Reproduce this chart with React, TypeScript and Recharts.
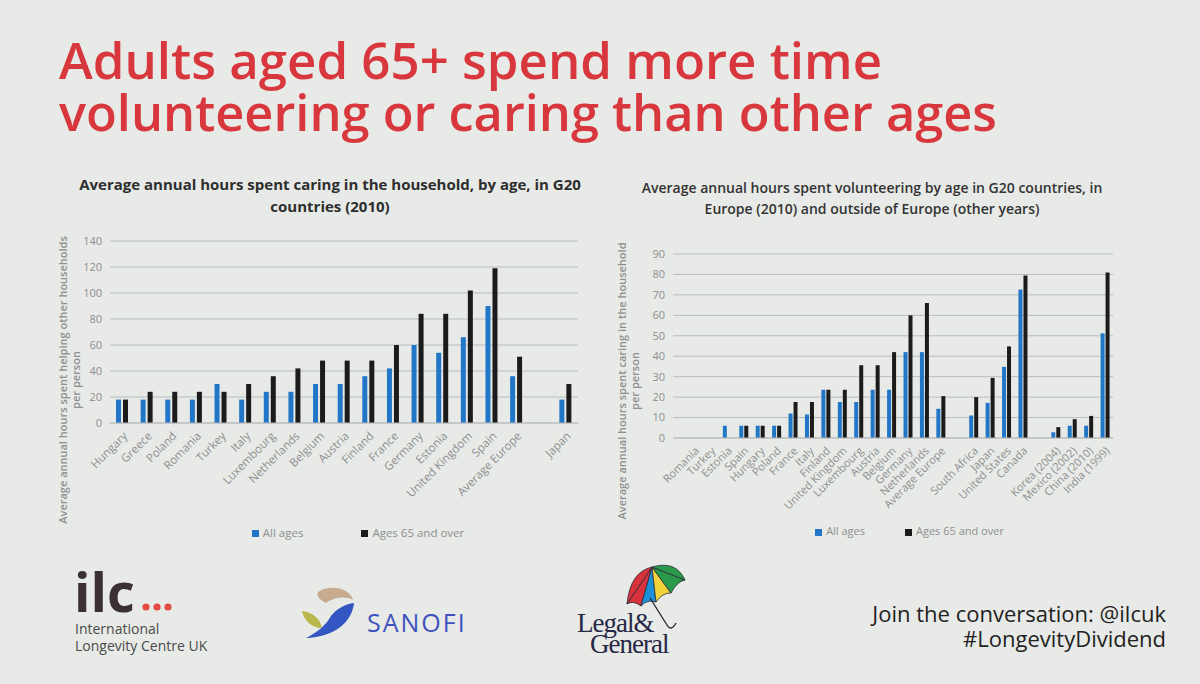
import React from "react";
import { Bar, BarChart, CartesianGrid, Legend, XAxis, YAxis } from "recharts";

// left panel: caring in the household (2010)
const careCountries = [
  "Hungary", "Greece", "Poland", "Romania", "Turkey", "Italy", "Luxembourg",
  "Netherlands", "Belgium", "Austria", "Finland", "France", "Germany",
  "Estonia", "United Kingdom", "Spain", "Average Europe", "", "Japan",
];
const careAllAges = [18, 18, 18, 18, 30, 18, 24, 24, 30, 30, 36, 42, 60, 54, 66, 90, 36, null, 18];
const careOver65 = [18, 24, 24, 24, 24, 30, 36, 42, 48, 48, 48, 60, 84, 84, 102, 119, 51, null, 30];
const careTicks = [0, 20, 40, 60, 80, 100, 120, 140];

// right panel: volunteering
const volCountries = [
  "Romania", "Turkey", "Estonia", "Spain", "Hungary", "Poland", "France",
  "Italy", "Finland", "United Kingdom", "Luxembourg", "Austria", "Belgium",
  "Germany", "Netherlands", "Average Europe", " ", "South Africa", "Japan",
  "United States", "Canada", "  ", "Korea (2004)", "Mexico (2002)",
  "China (2010)", "India (1999)",
];
const volAllAges = [null, null, 6, 6, 6, 6, 12, 11.5, 23.6, 17.6, 17.6, 23.6, 23.6, 42, 42, 14.3, null, 11, 17.2, 34.8, 72.6, null, 2.8, 6, 6, 51.2];
const volOver65 = [null, null, null, 6, 6, 6, 17.6, 17.6, 23.6, 23.6, 35.6, 35.6, 42, 60, 66, 20.5, null, 20, 29.4, 44.8, 79.5, null, 5.3, 9.2, 10.8, 81];
const volTicks = [0, 10, 20, 30, 40, 50, 60, 70, 80, 90];

const BLUE = "#2176c7";
const BLACK = "#1b1b1b";
const GREY = "#8d8f90";
const RED = "#d8383d";
const FONT = '"Open Sans", sans-serif';

const careData = careCountries.map((name, i) => ({
  name,
  all: careAllAges[i],
  over65: careOver65[i],
}));
const volData = volCountries.map((name, i) => ({
  name,
  all: volAllAges[i],
  over65: volOver65[i],
}));

function Panel({
  data,
  ticks,
  width,
  height,
  margin,
  yWidth,
  xHeight,
  barSize,
  barGap,
  padLeft,
  tickFont,
  legendGap,
  legendShift,
  legendFont,
}: {
  data: { name: string; all: number | null; over65: number | null }[];
  ticks: number[];
  width: number;
  height: number;
  margin: { top: number; right: number; left: number; bottom: number };
  yWidth: number;
  xHeight: number;
  barSize: number;
  barGap: number;
  padLeft: number;
  tickFont: number;
  legendGap: number;
  legendShift: number;
  legendFont: number;
}) {
  return (
    <BarChart width={width} height={height} data={data} margin={margin} barGap={barGap}>
      <CartesianGrid vertical={false} stroke="#b9bcbf" />
      <XAxis
        dataKey="name"
        interval={0}
        angle={-45}
        textAnchor="end"
        height={xHeight}
        padding={{ left: padLeft, right: 0 }}
        tick={{ fontSize: tickFont, fill: GREY, fontFamily: FONT }}
        tickLine={false}
        axisLine={{ stroke: "#b9bcbf" }}
      />
      <YAxis
        type="number"
        domain={[0, ticks[ticks.length - 1]]}
        ticks={ticks}
        interval={0}
        width={yWidth}
        tick={{ fontSize: 11, fill: GREY, fontFamily: FONT }}
        tickLine={false}
        axisLine={false}
      />
      <Legend
        verticalAlign="bottom"
        iconType="square"
        iconSize={7}
        itemSorter="dataKey"
        wrapperStyle={{ fontFamily: FONT, fontSize: legendFont, left: legendShift }}
        formatter={(value: string, _e: unknown, index: number) => (
          <span style={{ color: GREY, marginRight: index === 0 ? legendGap : 0 }}>{value}</span>
        )}
      />
      <Bar dataKey="all" name="All ages" fill={BLUE} barSize={barSize} isAnimationActive={false} />
      <Bar dataKey="over65" name="Ages 65 and over" fill={BLACK} barSize={barSize} isAnimationActive={false} />
    </BarChart>
  );
}

function Umbrella() {
  const a = [652, 567];
  const rim = [
    [627, 604],
    [641, 606],
    [656, 602],
    [671, 593],
    [685, 580],
  ];
  const colors = ["#d8323c", "#1c8fd6", "#f2d43a", "#2a9a4a"];
  return (
    <g>
      {colors.map((c, i) => (
        <path
          key={c}
          d={`M${a[0]},${a[1]} L${rim[i][0]},${rim[i][1]} Q${(rim[i][0] + rim[i + 1][0]) / 2 - 1},${(rim[i][1] + rim[i + 1][1]) / 2 - 5} ${rim[i + 1][0]},${rim[i + 1][1]} Z`}
          fill={c}
          stroke="#2a2a3a"
          strokeWidth={0.8}
        />
      ))}
      <path d={`M${a[0]},${a[1]} Q630,572 627,604 L${a[0]},${a[1]} Z`} fill="#d8323c" stroke="#2a2a3a" strokeWidth={0.8} />
      <path d={`M${a[0]},${a[1]} Q676,560 685,580 L${a[0]},${a[1]} Z`} fill="#2a9a4a" stroke="#2a2a3a" strokeWidth={0.8} />
      <path d="M650,598 L667,625 Q671,632 676,623" fill="none" stroke="#2a2a3a" strokeWidth={1.4} />
    </g>
  );
}

function SanofiMark() {
  return (
    <g>
      <path d="M318,592 C330,584 350,588 353,600 C345,596 335,597 326,603 C320,600 316,596 318,592 Z" fill="#c8ab8f" />
      <path d="M354,603 C352,622 335,637 306,638 C318,632 326,625 331,616 C337,608 346,604 354,603 Z" fill="#3456c2" />
      <path d="M302,611 C312,612 320,618 322,628 C312,628 304,621 302,611 Z" fill="#b9b64c" />
    </g>
  );
}

export default function App() {
  return (
    <div
      style={{
        position: "absolute",
        left: 0,
        top: 0,
        width: 1200,
        height: 684,
        overflow: "hidden",
        background: "#e8eae7",
        fontFamily: FONT,
      }}
    >
      <div style={{ position: "absolute", left: 0, top: 225 }}>
        <Panel
          data={careData}
          ticks={careTicks}
          width={600}
          height={323}
          margin={{ top: 16, right: 22, left: 0, bottom: 8 }}
          yWidth={110}
          xHeight={102}
          barSize={5}
          barGap={2}
          padLeft={0}
          tickFont={11.5}
          legendGap={48}
          legendShift={74}
          legendFont={11.5}
        />
      </div>
      <div style={{ position: "absolute", left: 600, top: 235 }}>
        <Panel
          data={volData}
          ticks={volTicks}
          width={540}
          height={311}
          margin={{ top: 19, right: 27, left: 0, bottom: 8 }}
          yWidth={73}
          xHeight={85}
          barSize={4}
          barGap={1}
          padLeft={13}
          tickFont={11}
          legendGap={30}
          legendShift={58}
          legendFont={11}
        />
      </div>
      <svg
        width={1200}
        height={684}
        style={{ position: "absolute", left: 0, top: 0, pointerEvents: "none" }}
        fontFamily={FONT}
      >
        <text x={59} y={79} fontSize={50} fontWeight={600} fill={RED} textLength={823} lengthAdjust="spacingAndGlyphs">
          Adults aged 65+ spend more time
        </text>
        <text x={59} y={131} fontSize={50} fontWeight={600} fill={RED} textLength={938} lengthAdjust="spacingAndGlyphs">
          volunteering or caring than other ages
        </text>

        <text x={330} y={190} fontSize={15} fontWeight={700} fill="#2e2e2e" textAnchor="middle">
          Average annual hours spent caring in the household, by age, in G20
        </text>
        <text x={330} y={212} fontSize={15} fontWeight={700} fill="#2e2e2e" textAnchor="middle">
          countries (2010)
        </text>
        <text x={872} y={193} fontSize={14} fontWeight={600} fill="#333" textAnchor="middle">
          Average annual hours spent volunteering by age in G20 countries, in
        </text>
        <text x={872} y={214} fontSize={14} fontWeight={600} fill="#333" textAnchor="middle">
          Europe (2010) and outside of Europe (other years)
        </text>

        <g fontSize={11} fontWeight={600} fill={GREY} textAnchor="middle">
          <text transform="translate(67 380) rotate(-90)">
            Average annual hours spent helping other households
          </text>
          <text transform="translate(80 380) rotate(-90)">per person</text>
          <text transform="translate(626 381) rotate(-90)">
            Average annual hours spent caring in the household
          </text>
          <text transform="translate(639 381) rotate(-90)">per person</text>
        </g>

        <text x={74} y={612} fontSize={54} fontWeight={700} fill="#3a3035">
          ilc
        </text>
        {[146, 157, 168].map((cx) => (
          <circle key={cx} cx={cx} cy={607} r={3.6} fill="#e24a43" />
        ))}
        <text x={75} y={634} fontSize={14} fill="#4a4a4a">
          International
        </text>
        <text x={75} y={651} fontSize={14} fill="#4a4a4a">
          Longevity Centre UK
        </text>

        <SanofiMark />
        <text x={367} y={632} fontSize={25} fill="#3f52c0" letterSpacing={2}>
          SANOFI
        </text>

        <Umbrella />
        <text x={577} y={632} fontSize={27} fill="#262845" fontFamily='"Liberation Serif", serif' letterSpacing={-1}>
          Legal&amp;
        </text>
        <text x={590} y={653} fontSize={27} fill="#262845" fontFamily='"Liberation Serif", serif' letterSpacing={-1}>
          General
        </text>

        <text x={1166} y={622} fontSize={22} fill="#222" textAnchor="end">
          Join the conversation: @ilcuk
        </text>
        <text x={1166} y={647} fontSize={22} fill="#222" textAnchor="end">
          #LongevityDividend
        </text>
      </svg>
    </div>
  );
}
